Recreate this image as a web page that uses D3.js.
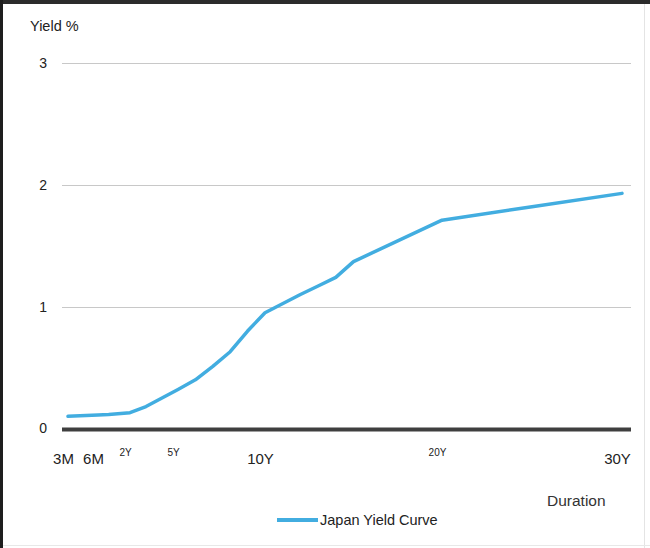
<!DOCTYPE html>
<html>
<head>
<meta charset="utf-8">
<script src="https://cdn.jsdelivr.net/npm/d3@7/dist/d3.min.js"></script>
<style>
  html, body { margin: 0; padding: 0; background: #fff; }
  svg { display: block; font-family: "Liberation Sans", Arial, sans-serif; }
</style>
</head>
<body>
<svg id="chart" width="650" height="548"></svg>
<script>
// Japan government bond yield curve, maturity in years vs yield in %
const maturities = [0.25, 0.5, 1, 2, 3, 4, 5, 6, 7, 8, 9, 10, 12, 13, 14, 15, 20, 25, 30];
const yields     = [0.10, 0.11, 0.115, 0.13, 0.18, 0.25, 0.32, 0.40, 0.51, 0.63, 0.80, 0.95, 1.10, 1.17, 1.24, 1.37, 1.71, 1.82, 1.93];

const tickYears  = [0.25, 0.5, 2, 5, 10, 20, 30];
const tickLabels = ["3M", "6M", "2Y", "5Y", "10Y", "20Y", "30Y"];
const yTicks     = [0, 1, 2, 3];

const svg = d3.select("#chart");
const W = 650, H = 548;

// frame around the chart area
svg.append("rect").attr("x", 0).attr("y", 0).attr("width", W).attr("height", 4).attr("fill", "#2b2b2b");
svg.append("rect").attr("x", 0).attr("y", 0).attr("width", 3).attr("height", H).attr("fill", "#1e1e1e");
svg.append("line").attr("x1", 644.5).attr("x2", 644.5).attr("y1", 4).attr("y2", H)
  .attr("stroke", "#e4e4e4").attr("stroke-width", 1);
svg.append("line").attr("x1", 3).attr("x2", W).attr("y1", 545.5).attr("y2", 545.5)
  .attr("stroke", "#e8e8e8").attr("stroke-width", 1);

const plotLeft = 62, plotRight = 631;

// short maturities are spread out along the axis
const x = d3.scaleLinear()
  .domain([0.25, 0.5, 2, 5, 10, 20, 30])
  .range([68, 98, 130, 178, 265, 442, 622]);

const y = d3.scaleLinear().domain([0, 3]).range([428.5, 63]);

// horizontal gridlines
svg.append("g")
  .selectAll("line")
  .data(yTicks.filter(d => d > 0))
  .join("line")
  .attr("x1", plotLeft).attr("x2", plotRight)
  .attr("y1", d => Math.round(y(d)) + 0.5).attr("y2", d => Math.round(y(d)) + 0.5)
  .attr("stroke", "#c8c8c8").attr("stroke-width", 1);

// y axis labels
const yAxis = d3.axisLeft(y).tickValues(yTicks).tickFormat(d3.format("d")).tickSize(0).tickPadding(0);
const gy = svg.append("g").attr("transform", `translate(47,0)`).call(yAxis);
gy.select(".domain").remove();
gy.selectAll("text").attr("font-size", 14).attr("fill", "#222")
  .attr("font-family", "'Liberation Sans', Arial, sans-serif");

// baseline at zero
svg.append("line")
  .attr("x1", plotLeft).attr("x2", plotRight)
  .attr("y1", y(0) + 1).attr("y2", y(0) + 1)
  .attr("stroke", "#3f3f3f").attr("stroke-width", 4);

// x axis labels
const smallLabels = new Set(["2Y", "5Y", "20Y"]);
const xAxis = d3.axisBottom(x).tickValues(tickYears)
  .tickFormat((d, i) => tickLabels[i]).tickSize(0).tickPadding(0);
const gx = svg.append("g").attr("transform", `translate(-5,0)`).call(xAxis);
gx.select(".domain").remove();
gx.selectAll("text")
  .attr("font-family", "'Liberation Sans', Arial, sans-serif")
  .attr("fill", "#222")
  .attr("dy", null)
  .attr("font-size", (d, i) => smallLabels.has(tickLabels[i]) ? 10 : 15)
  .attr("y", (d, i) => smallLabels.has(tickLabels[i]) ? 456 : 464);

// yield curve
const line = d3.line()
  .x((d, i) => x(maturities[i]))
  .y(d => y(d))
  .curve(d3.curveLinear);

svg.append("path")
  .datum(yields)
  .attr("d", line)
  .attr("fill", "none")
  .attr("stroke", "#42ade0")
  .attr("stroke-width", 3.5)
  .attr("stroke-linejoin", "round")
  .attr("stroke-linecap", "round");

// axis titles
svg.append("text").attr("x", 30).attr("y", 31).text("Yield %")
  .attr("font-size", 14.5).attr("fill", "#222");
svg.append("text").attr("x", 547).attr("y", 506).text("Duration")
  .attr("font-size", 15.5).attr("fill", "#333");

// legend
svg.append("line").attr("x1", 277).attr("x2", 318).attr("y1", 520).attr("y2", 520)
  .attr("stroke", "#42ade0").attr("stroke-width", 4);
svg.append("text").attr("x", 320).attr("y", 525).text("Japan Yield Curve")
  .attr("font-size", 14.5).attr("fill", "#222");
</script>
</body>
</html>
